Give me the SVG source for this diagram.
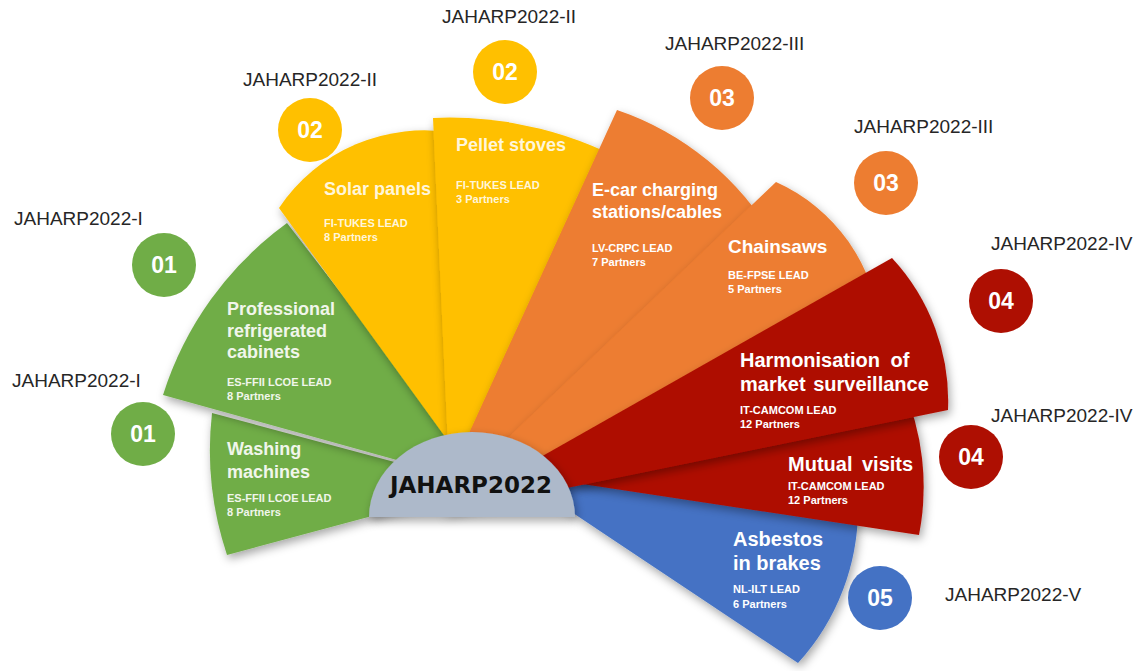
<svg xmlns="http://www.w3.org/2000/svg" width="1134" height="671" viewBox="0 0 1134 671">
<defs>
<filter id="sh" x="-20%" y="-20%" width="140%" height="140%">
<feDropShadow dx="2" dy="4" stdDeviation="5" flood-color="#000" flood-opacity="0.35"/>
</filter>
<style>
.w{filter:url(#sh)}
.t{font-family:"Liberation Sans",Arial,sans-serif;font-weight:bold;font-size:18px}
.s{font-family:"Liberation Sans",Arial,sans-serif;font-weight:bold;font-size:11px}
.g{fill:#F0F6EB}
.y{fill:#FFF6DA}
.wt{fill:#FFFFFF}
.lbl{font-family:"Liberation Sans",Arial,sans-serif;font-size:19px;fill:#262626}
.num{font-family:"Liberation Sans",Arial,sans-serif;font-weight:bold;font-size:23px;fill:#FFFFFF;text-anchor:middle}
</style>
</defs>
<rect width="1134" height="671" fill="#FFFFFF"/>

<g id="connectors"></g>

<g id="washing-machines">
<path class="w" d="M484,486 L227,555 A330,330 0 0 1 212,413 Z" fill="#70AD47"/>
<text class="t g" x="227" y="455">Washing</text>
<text class="t g" x="227" y="478">machines</text>
<text class="s g" x="227" y="502">ES-FFII LCOE LEAD</text>
<text class="s g" x="227" y="516">8 Partners</text>
</g>

<g id="professional-refrigerated-cabinets">
<path class="w" d="M490,486 L163,395 A338,338 0 0 1 287,223 Z" fill="#70AD47"/>
<text class="t g" x="227" y="315">Professional</text>
<text class="t g" x="227" y="337">refrigerated</text>
<text class="t g" x="227" y="358">cabinets</text>
<text class="s g" x="227" y="386">ES-FFII LCOE LEAD</text>
<text class="s g" x="227" y="400">8 Partners</text>
</g>

<g id="solar-panels">
<path class="w" d="M462,460 L279,208 A175,175 0 0 1 455,133 L470,460 Z" fill="#FFC000"/>
<text class="t y" x="324" y="195">Solar panels</text>
<text class="s y" x="324" y="227">FI-TUKES LEAD</text>
<text class="s y" x="324" y="241">8 Partners</text>
</g>

<g id="pellet-stoves">
<path class="w" d="M450,490 L433,118 A372,372 0 0 1 640,170 Z" fill="#FFC000"/>
<text class="t y" x="456" y="151">Pellet stoves</text>
<text class="s y" x="456" y="189">FI-TUKES LEAD</text>
<text class="s y" x="456" y="203">3 Partners</text>
</g>

<g id="e-car-charging">
<path class="w" d="M443,490 L617,110 A290,290 0 0 1 775,240 Z" fill="#ED7D31"/>
<text class="t wt" x="592" y="196">E-car charging</text>
<text class="t wt" x="592" y="218">stations/cables</text>
<text class="s wt" x="592" y="252">LV-CRPC LEAD</text>
<text class="s wt" x="592" y="266">7 Partners</text>
</g>

<g id="chainsaws">
<path class="w" d="M448,495 L776,182 A176,176 0 0 1 880,330 Z" fill="#ED7D31"/>
<text class="t wt" x="728" y="253" style="font-size:19px">Chainsaws</text>
<text class="s wt" x="728" y="279">BE-FPSE LEAD</text>
<text class="s wt" x="728" y="293">5 Partners</text>
</g>

<g id="asbestos-in-brakes">
<path class="w" d="M480,451 L858,505 A230,230 0 0 1 798,663 Z" fill="#4472C4"/>
<text class="t wt" x="733" y="546" style="font-size:20px">Asbestos</text>
<text class="t wt" x="733" y="570" style="font-size:20px">in brakes</text>
<text class="s wt" x="733" y="593">NL-ILT LEAD</text>
<text class="s wt" x="733" y="608">6 Partners</text>
</g>

<g id="mutual-visits">
<path class="w" d="M490,470 L902,385 A250,250 0 0 1 919,535 Z" fill="#AE0F02"/>
<text class="t wt" x="788" y="471" style="font-size:20px;word-spacing:4px">Mutual visits</text>
<text class="s wt" x="788" y="490">IT-CAMCOM LEAD</text>
<text class="s wt" x="788" y="504">12 Partners</text>
</g>

<g id="harmonisation">
<path class="w" d="M440,514 L892,258 A210,210 0 0 1 948,410 Z" fill="#AE0F02"/>
<text class="t wt" x="740" y="367" style="font-size:20px;word-spacing:5px">Harmonisation of</text>
<text class="t wt" x="740" y="391" style="font-size:20px;word-spacing:2px">market surveillance</text>
<text class="s wt" x="740" y="414">IT-CAMCOM LEAD</text>
<text class="s wt" x="740" y="428">12 Partners</text>
</g>

<g id="center">
<path class="w" d="M369,517 A103,85 0 0 1 575,517 Z" fill="#ADB9CA"/>
<text x="471" y="493" text-anchor="middle" style="font-family:'DejaVu Sans',sans-serif;font-weight:bold;font-size:23px;fill:#111111">JAHARP2022</text>
</g>

<g id="badge-01a">
<circle cx="164" cy="265" r="32" fill="#70AD47"/>
<text class="num" x="164" y="273">01</text>
<text class="lbl" x="14" y="225">JAHARP2022-I</text>
</g>
<g id="badge-01b">
<circle cx="143" cy="434" r="32" fill="#70AD47"/>
<text class="num" x="143" y="442">01</text>
<text class="lbl" x="12" y="387">JAHARP2022-I</text>
</g>
<g id="badge-02a">
<circle cx="310" cy="130" r="32" fill="#FFC000"/>
<text class="num" x="310" y="138">02</text>
<text class="lbl" x="243" y="86">JAHARP2022-II</text>
</g>
<g id="badge-02b">
<circle cx="505" cy="72" r="32" fill="#FFC000"/>
<text class="num" x="505" y="80">02</text>
<text class="lbl" x="442" y="23">JAHARP2022-II</text>
</g>
<g id="badge-03a">
<circle cx="722" cy="98" r="32" fill="#ED7D31"/>
<text class="num" x="722" y="106">03</text>
<text class="lbl" x="665" y="50">JAHARP2022-III</text>
</g>
<g id="badge-03b">
<circle cx="886" cy="183" r="32" fill="#ED7D31"/>
<text class="num" x="886" y="191">03</text>
<text class="lbl" x="854" y="133">JAHARP2022-III</text>
</g>
<g id="badge-04a">
<circle cx="1001" cy="301" r="32" fill="#AE0F02"/>
<text class="num" x="1001" y="309">04</text>
<text class="lbl" x="991" y="250">JAHARP2022-IV</text>
</g>
<g id="badge-04b">
<circle cx="971" cy="457" r="32" fill="#AE0F02"/>
<text class="num" x="971" y="465">04</text>
<text class="lbl" x="991" y="422">JAHARP2022-IV</text>
</g>
<g id="badge-05">
<circle cx="880" cy="598" r="32" fill="#4472C4"/>
<text class="num" x="880" y="606">05</text>
<text class="lbl" x="945" y="601">JAHARP2022-V</text>
</g>
</svg>
